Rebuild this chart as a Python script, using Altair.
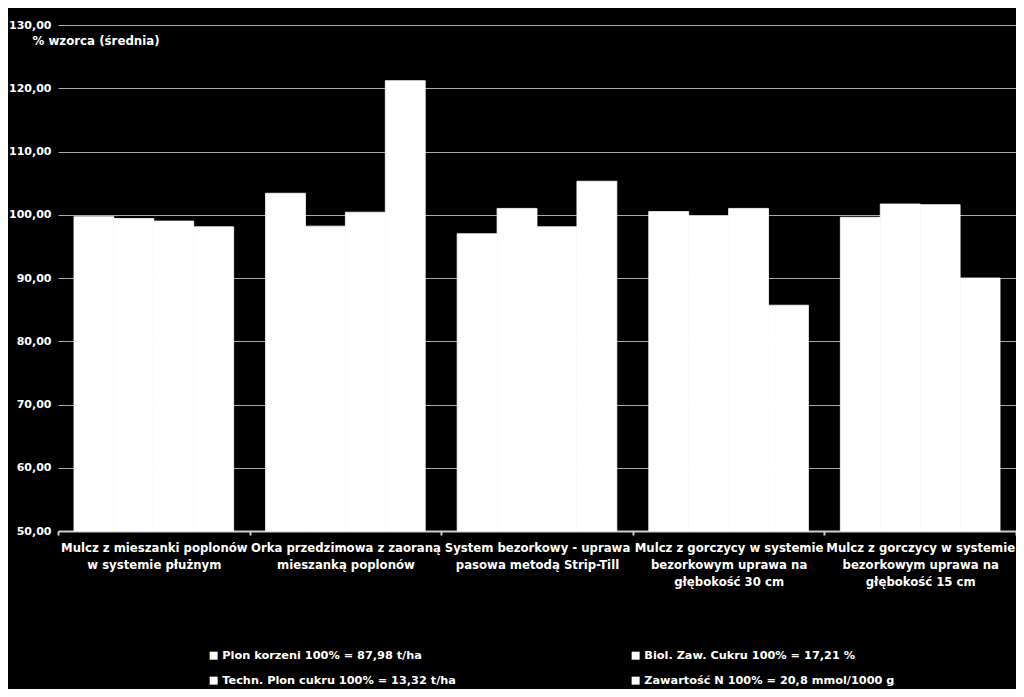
import altair as alt
import pandas as pd

categories = [
    "Mulcz z mieszanki poplonów\nw systemie płużnym",
    "Orka przedzimowa z zaoraną\nmieszanką poplonów",
    "System bezorkowy - uprawa\npasowa  metodą Strip-Till",
    "Mulcz z gorczycy w systemie\nbezorkowym uprawa na\ngłębokość 30 cm",
    "Mulcz z gorczycy w systemie\nbezorkowym uprawa na\ngłębokość 15 cm",
]
series = [
    "Plon korzeni 100% = 87,98 t/ha",
    "Biol. Zaw. Cukru 100% = 17,21 %",
    "Techn. Plon cukru 100% = 13,32 t/ha",
    "Zawartość N 100% = 20,8 mmol/1000 g",
]
values = {
    series[0]: [99.7, 103.4, 97.0, 100.5, 99.6],
    series[1]: [99.4, 98.2, 101.0, 99.8, 101.7],
    series[2]: [99.0, 100.4, 98.1, 101.0, 101.6],
    series[3]: [98.1, 121.2, 105.3, 85.7, 90.0],
}
y_ticks = [50, 60, 70, 80, 90, 100, 110, 120, 130]

rows = []
for s in series:
    for c, v in zip(categories, values[s]):
        rows.append({"kategoria": c, "seria": s, "wartosc": v})
df = pd.DataFrame(rows)

FONT = "DejaVu Sans"

chart = (
    alt.Chart(df)
    .mark_bar(color="white", stroke="white", strokeWidth=0.8)
    .encode(
        x=alt.X(
            "kategoria:N",
            sort=categories,
            scale=alt.Scale(paddingInner=0, paddingOuter=0),
            axis=alt.Axis(
                title=None,
                labelExpr="split(datum.label, '\\n')",
                labelAngle=0,
                labelColor="white",
                labelFont=FONT,
                labelFontWeight="bold",
                labelFontSize=11.7,
                labelLineHeight=17,
                labelPadding=7,
                labelOverlap=False,
                labelLimit=400,
                labelBound=False,
                labelFlush=False,
                tickBand="extent",
                tickSize=4,
                tickColor="#d0d0d0",
                tickWidth=2,
                domainColor="#d0d0d0",
                domainWidth=2,
                grid=False,
            ),
        ),
        xOffset=alt.XOffset(
            "seria:N",
            sort=series,
            scale=alt.Scale(paddingInner=0, paddingOuter=0.4),
        ),
        y=alt.Y(
            "wartosc:Q",
            scale=alt.Scale(domain=[50, 130], zero=False, nice=False, clamp=True),
            axis=alt.Axis(
                title="% wzorca (średnia)",
                titleAngle=0,
                titleAlign="left",
                titleBaseline="middle",
                titleX=-26,
                titleY=15,
                titleColor="white",
                titleFont=FONT,
                titleFontWeight="bold",
                titleFontSize=11.8,
                values=y_ticks,
                labelExpr="replace(format(datum.value, '.2f'), '.', ',')",
                labelColor="white",
                labelFont=FONT,
                labelFontWeight="bold",
                labelFontSize=11,
                labelPadding=7,
                ticks=False,
                tickSize=0,
                domain=False,
                grid=True,
                gridColor="#a8a8a8",
                gridWidth=1,
            ),
        ),
        color=alt.Color(
            "seria:N",
            sort=series,
            scale=alt.Scale(domain=series, range=["white"] * 4),
            legend=alt.Legend(
                title=None,
                orient="none",
                legendX=150,
                legendY=625,
                direction="horizontal",
                columns=2,
                columnPadding=174,
                rowPadding=13,
                symbolType="square",
                symbolSize=64,
                symbolStrokeWidth=0,
                symbolOpacity=1,
                labelColor="white",
                labelFont=FONT,
                labelFontWeight="bold",
                labelFontSize=11.3,
                labelOffset=3,
                labelLimit=400,
            ),
        ),
    )
    .properties(
        width=958,
        height=506,
        background="black",
        padding={"left": 50, "top": 17, "right": 0, "bottom": 158},
        autosize=alt.AutoSizeParams(type="none"),
    )
    .configure_view(stroke=None)
)

chart.save("out.html", embed_options={"renderer": "svg", "actions": False})
